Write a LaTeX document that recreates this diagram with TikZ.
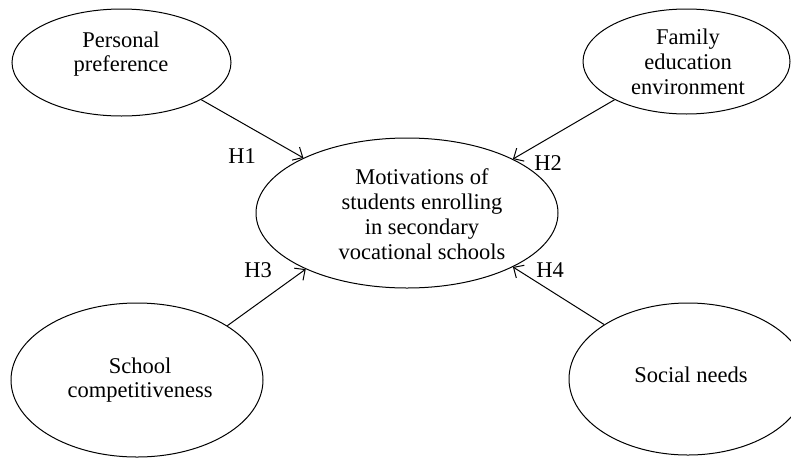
\documentclass[tikz,border=0pt]{standalone}
\usepackage{fontspec}
\setmainfont{Liberation Serif}
\usetikzlibrary{shapes.geometric,arrows.meta}
\begin{document}
\begin{tikzpicture}[x=1pt,y=-1pt,
  oval/.style={draw,ellipse,line width=1pt,inner sep=0pt},
  txt/.style={align=center,font=\fontsize{22.5}{24.8}\selectfont,inner sep=0pt},
  hlab/.style={font=\fontsize{22.5}{24.8}\selectfont,inner sep=0pt},
  link/.style={line width=1pt,-{Straight Barb[length=8pt,width=15pt,line width=1pt]}}]
\useasboundingbox (0,0) rectangle (791,458);
\node[oval,minimum width=219pt,minimum height=107pt] (pp) at (121.5,62.5) {};
\node[oval,minimum width=207pt,minimum height=105pt] (fe) at (686.5,61.5) {};
\node[oval,minimum width=302pt,minimum height=150pt] (mo) at (407,213) {};
\node[oval,minimum width=252pt,minimum height=154pt] (sc) at (137,380) {};
\node[oval,minimum width=238pt,minimum height=152pt] (sn) at (688,379) {};
\node[txt] (tpp) at (121,54) {Personal\\preference};
\node[txt] (tfe) at (688,62) {Family\\education\\environment};
\node[txt] (tmo) at (422,214) {Motivations of\\students enrolling\\in secondary\\vocational schools};
\node[txt] (tsc) at (140,380) {School\\competitiveness};
\node[txt] (tsn) at (691,375) {Social needs};
\draw[link] (pp.-25) -- (mo.152.4);
\draw[link] (fe.-152.3) -- (mo.27.8);
\draw[link] (sc.31.9) -- (mo.-151.6);
\draw[link] (sn.147.9) -- (mo.-27.4);
\node[hlab] (h1) at (242,156) {H1};
\node[hlab] (h2) at (548,163) {H2};
\node[hlab] (h3) at (258,270) {H3};
\node[hlab] (h4) at (550,270) {H4};
\end{tikzpicture}
\end{document}
